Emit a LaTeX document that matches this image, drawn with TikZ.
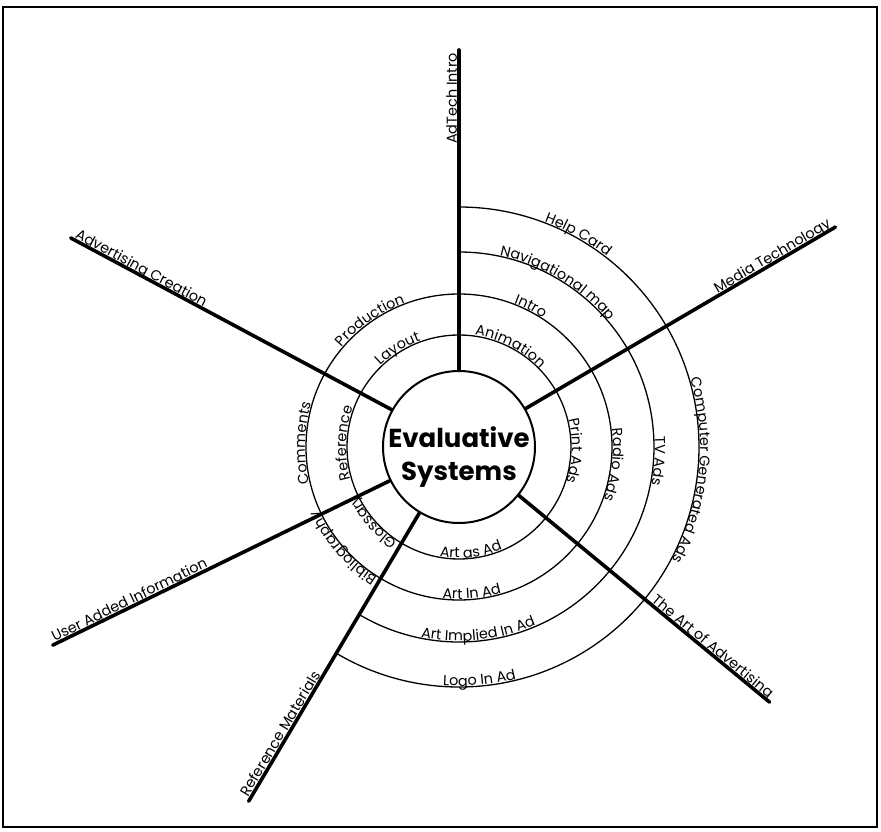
\documentclass[tikz,border=0pt]{standalone}
\usepackage{fontspec}
\setmainfont{Poppins}
\usetikzlibrary{decorations.text}

\newcommand{\arcfont}{\fontsize{14.4}{16}\selectfont}
% text on a ring, read clockwise (letters point outward)
\newcommand{\cwlabel}[3]{\path[ringtext={#3}] ({#2+40}:#1) arc[start angle={#2+40}, end angle={#2-40}, radius=#1];}
% text on a ring, read anticlockwise (letters point inward)
\newcommand{\ccwlabel}[3]{\path[ringtext={#3}] ({#2-40}:#1) arc[start angle={#2-40}, end angle={#2+40}, radius=#1];}

\begin{document}
\begin{tikzpicture}[
  x=1pt, y=1pt,
  hub/.style={draw, circle, line width=2pt, minimum size=152pt, inner sep=0pt, fill=white},
  title/.style={align=center, font=\fontsize{26}{33}\selectfont\bfseries},
  ring/.style={line width=1.3pt},
  spoke/.style={line width=3.6pt, line cap=round},
  spklbl/.style={font=\fontsize{14.4}{16}\selectfont, inner xsep=3pt, inner ysep=2pt,
                 text depth=0pt},
  ringtext/.style={decorate, decoration={text along path, text align=center,
                   raise=1pt, text={|\arcfont|#1}}},
  frame/.style={line width=1.8pt},
]
\useasboundingbox (-459,-384) rectangle (422,447);
\draw[frame] (-456,440) rectangle (418,-380);

% Rings (two closed, two open ones ending on the Reference Materials spoke)
\draw[ring] (0,0) circle[radius=112];
\draw[ring] (0,0) circle[radius=153];
\draw[ring] (90:195) arc[start angle=90, end angle=-120.7, radius=195];
\draw[ring] (90:240) arc[start angle=90, end angle=-120.7, radius=240];

% Hub
\node[hub] (eval) at (0,0) {};
\node[title] (evaltitle) at (0,-10) {Evaluative\\Systems};

% Spoke ends
\coordinate (adtech)  at (90:397);
\coordinate (media)   at (30.3:436);
\coordinate (artadv)  at (-39.4:402);
\coordinate (refmat)  at (239.3:412);
\coordinate (useradd) at (206:452);
\coordinate (advcre)  at (151.7:441);

% Spokes
\draw[spoke] (eval.90)    -- (adtech);
\draw[spoke] (eval.30.3)  -- (media);
\draw[spoke] (eval.-39.4) -- (artadv);
\draw[spoke] (eval.239.3) -- (refmat);
\draw[spoke] (eval.206)   -- (useradd);
\draw[spoke] (eval.151.7) -- (advcre);

% Spoke labels
\node[spklbl, rotate=90,    anchor=south east] (l_adtech)  at (adtech)  {AdTech Intro};
\node[spklbl, rotate=30.3,  anchor=south east] (l_media)   at (media)   {Media Technology};
\node[spklbl, rotate=-39.4, anchor=south east] (l_artadv)  at (artadv)  {The Art of Advertising};
\node[spklbl, rotate=59.3,  anchor=south west] (l_refmat)  at (refmat)  {Reference Materials};
\node[spklbl, rotate=26,    anchor=south west] (l_useradd) at (useradd) {User Added Information};
\node[spklbl, rotate=-28.3, anchor=south west] (l_advcre)  at (advcre)  {Advertising Creation};

% Ring labels, inner ring
\cwlabel{112}{122}{Layout}
\cwlabel{112}{63}{Animation}
\cwlabel{112}{-2}{Print Ads}
\ccwlabel{112}{-83.5}{Art as Ad}
\cwlabel{112}{221}{Glossary}
\cwlabel{112}{178}{Reference}

% second ring
\cwlabel{153}{125}{Production}
\cwlabel{153}{63}{Intro}
\cwlabel{153}{-6.5}{Radio Ads}
\ccwlabel{153}{-85}{Art In Ad}
\cwlabel{153}{221}{Bibliography}
\cwlabel{153}{178.5}{Comments}

% third ring
\cwlabel{195}{59}{Navigational map}
\cwlabel{195}{-4}{TV Ads}
\ccwlabel{195}{-84}{Art Implied In Ad}

% outer ring
\cwlabel{240}{60.7}{Help Card}
\cwlabel{240}{-5.7}{Computer Generated Ads}
\ccwlabel{240}{-85}{Logo In Ad}
\end{tikzpicture}
\end{document}
